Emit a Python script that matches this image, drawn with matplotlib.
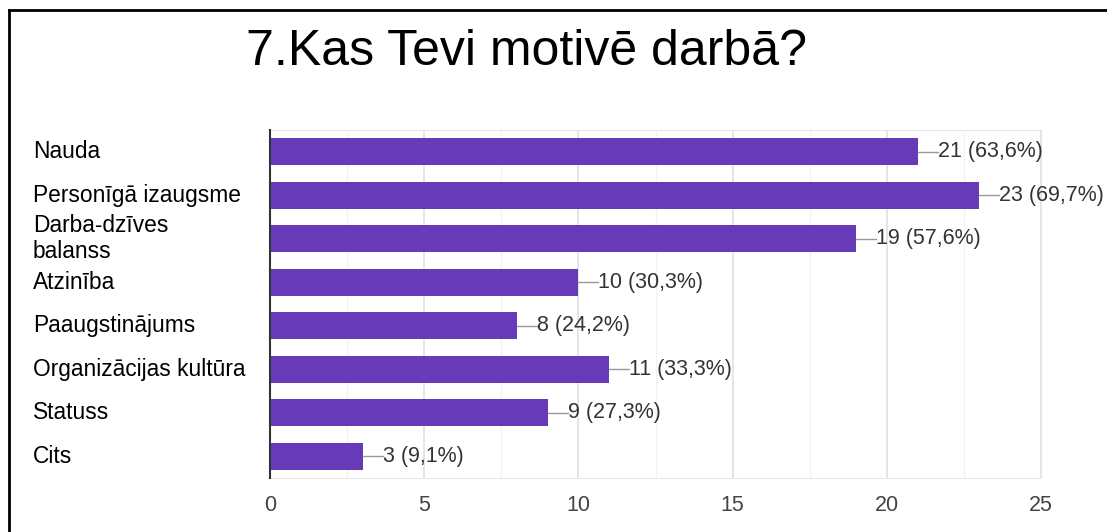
import numpy as np
import matplotlib.pyplot as plt
from matplotlib.lines import Line2D
from matplotlib.transforms import blended_transform_factory

plt.rcParams['font.family'] = ['Liberation Sans', 'DejaVu Sans']

categories = ['Nauda', 'Personīgā izaugsme', 'Darba-dzīves\nbalanss', 'Atzinība',
              'Paaugstinājums', 'Organizācijas kultūra', 'Statuss', 'Cits']
counts = [21, 23, 19, 10, 8, 11, 9, 3]
percents = ['63,6', '69,7', '57,6', '30,3', '24,2', '33,3', '27,3', '9,1']
xticks = [0, 5, 10, 15, 20, 25]

fig = plt.figure(figsize=(11.07, 5.32), dpi=100)
ax = fig.add_axes([270/1107, 1 - 478/532, 771/1107, 348/532])

y = np.arange(len(categories))
ax.barh(y, counts, height=0.63, color='#673AB7', zorder=3)

for yi, c, p in zip(y, counts, percents):
    ax.plot([c, c + 0.65], [yi, yi], color='#999999', lw=1, zorder=3, clip_on=False)
    ax.text(c + 0.65, yi, f'{c} ({p}%)', va='center', ha='left', fontsize=15.5, color='#333333')

ax.set_xlim(0, 25)
ax.set_ylim(len(categories) - 0.5, -0.5)
ax.set_xticks(xticks)
ax.set_xticks(np.arange(2.5, 25, 5), minor=True)
ax.set_yticks([])
ax.tick_params(axis='x', which='both', length=0, colors='#444444', labelsize=15.5, pad=12)
ax.grid(axis='x', which='major', color='#e0e0e0', lw=1.2, zorder=0)
ax.grid(axis='x', which='minor', color='#f3f3f3', lw=1, zorder=0)
for s in ['top', 'right', 'bottom']:
    ax.spines[s].set_color('#e6e6e6')
ax.spines['left'].set_color('#333333')
ax.spines['left'].set_linewidth(1.5)
ax.spines['left'].set_zorder(4)

trans = blended_transform_factory(fig.transFigure, ax.transData)
for yi, lab in zip(y, categories):
    ax.text(33/1107, yi, lab, transform=trans, va='center', ha='left',
            fontsize=16.4, color='black', linespacing=1.15)

fig.text(527/1107, 1 - 52/532, '7.Kas Tevi motivē darbā?', ha='center', va='center',
         fontsize=36, color='black')

# outer frame
fig.add_artist(Line2D([9/1107, 1], [1 - 10/532, 1 - 10/532], color='black', lw=2, transform=fig.transFigure))
fig.add_artist(Line2D([9/1107, 9/1107], [0, 1 - 10/532], color='black', lw=2, transform=fig.transFigure))

fig.savefig('out.png', dpi=100)
